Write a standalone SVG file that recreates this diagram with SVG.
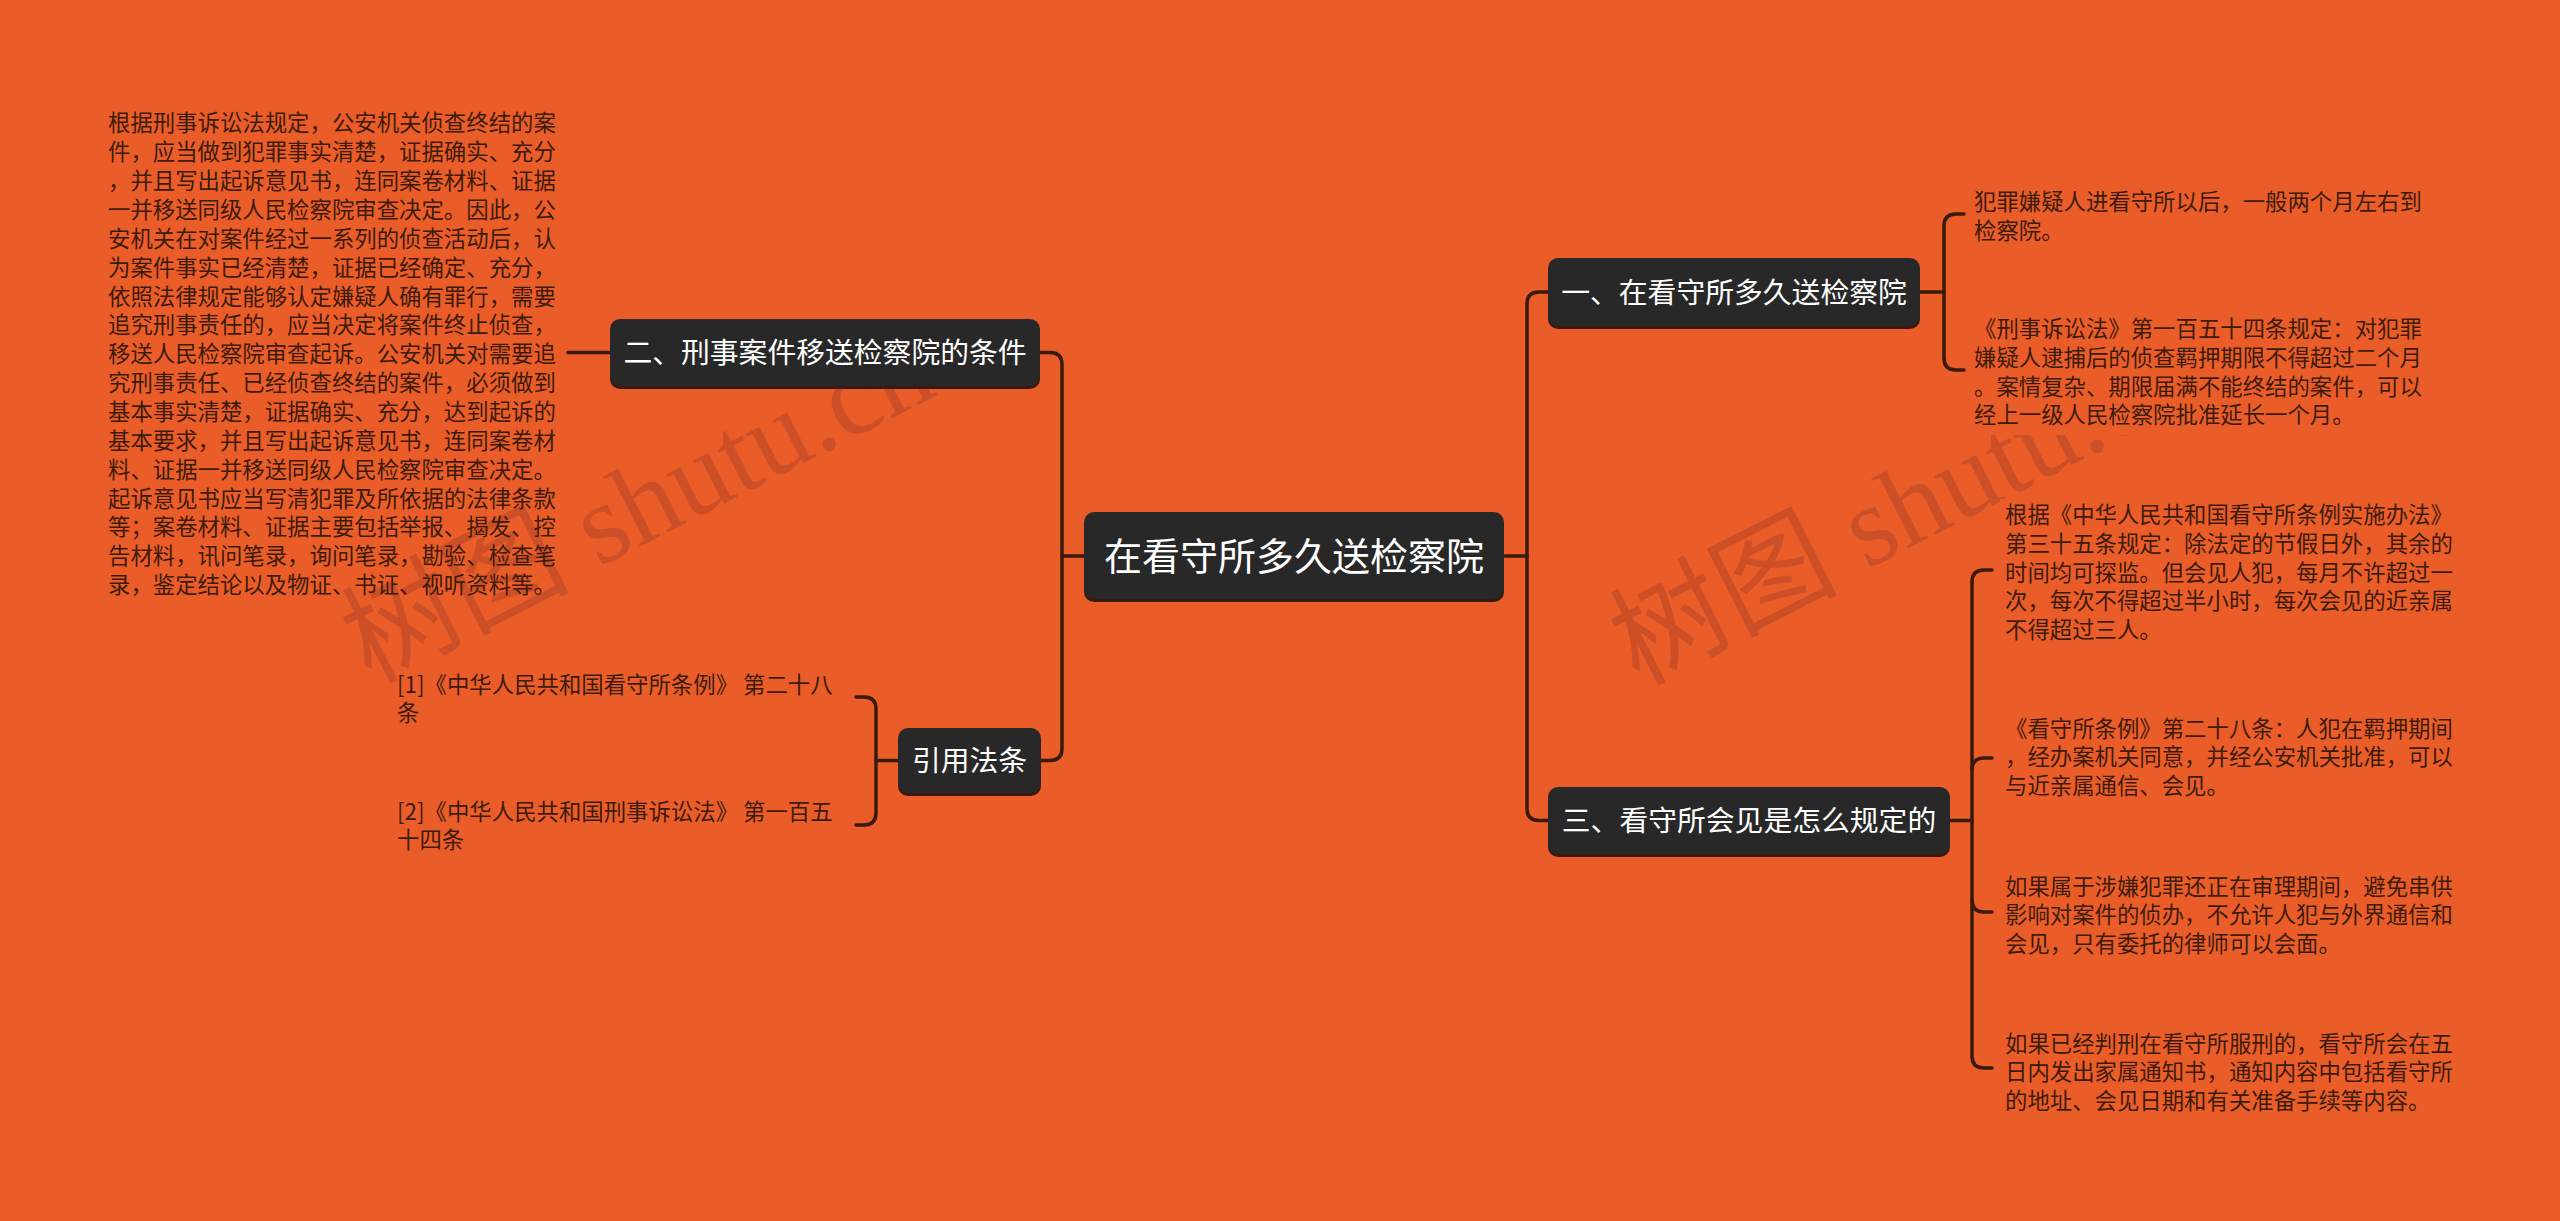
<svg xmlns="http://www.w3.org/2000/svg" width="2560" height="1221" viewBox="0 0 2560 1221">
<style>
.bg{fill:#EA5D29}
.wm{font-family:"Liberation Serif","Noto Sans CJK SC",serif;font-size:114px;fill:#CC4F27}
.node rect.box{fill:#282828}
.node rect.sh{fill:#3a1a0c}
.node text{font-family:"Noto Sans CJK SC","Noto Sans",sans-serif;fill:#ffffff;text-anchor:middle}
.t2{font-size:28.8px}
.t1{font-size:38px}
.leaf rect{fill:#EA5D29}
.leaf text{font-family:"Noto Sans CJK SC","Noto Sans",sans-serif;font-size:22.4px;fill:#3d1b0b}
.conn path{fill:none;stroke:#3a1a0c;stroke-width:3.5;stroke-linecap:round}
</style>
<rect class="bg" x="0" y="0" width="2560" height="1221"/>
<g id="watermarks">
<text class="wm" x="370" y="684" transform="rotate(-27 370 684)">树图 shutu.cn</text>
<text class="wm" x="1638" y="686" transform="rotate(-27 1638 686)">树图 shutu.cn</text>
</g>
<g class="conn" id="connectors">
<path d="M1041,352.5 H1050 Q1062,352.5 1062,364.5 V748.5 Q1062,760.5 1050,760.5 H1041"/>
<path d="M1084,556 H1062"/>
<path d="M610,352.5 H568"/>
<path d="M898,760.5 H876"/>
<path d="M856,697 H864 Q876,697 876,709 V813 Q876,825 864,825 H856"/>
<path d="M1548,292 H1539 Q1527,292 1527,304 V808.5 Q1527,820.5 1539,820.5 H1548"/>
<path d="M1505,556 H1527"/>
<path d="M1920,292 H1944"/>
<path d="M1964,214 H1956 Q1944,214 1944,226 V358 Q1944,370 1956,370 H1964"/>
<path d="M1950,820.5 H1972"/>
<path d="M1992,570 H1984 Q1972,570 1972,582 V1056 Q1972,1068 1984,1068 H1992"/>
<path d="M1972,770 Q1972,758 1984,758 H1992"/>
<path d="M1972,900 Q1972,912 1984,912 H1992"/>
</g>
<g class="leaf" id="leaf-conditions">
<text x="108" y="131.3"><tspan x="108">根据刑事诉讼法规定，公安机关侦查终结的案</tspan><tspan x="108" dy="28.87">件，应当做到犯罪事实清楚，证据确实、充分</tspan><tspan x="108" dy="28.87">，并且写出起诉意见书，连同案卷材料、证据</tspan><tspan x="108" dy="28.87">一并移送同级人民检察院审查决定。因此，公</tspan><tspan x="108" dy="28.87">安机关在对案件经过一系列的侦查活动后，认</tspan><tspan x="108" dy="28.87">为案件事实已经清楚，证据已经确定、充分，</tspan><tspan x="108" dy="28.87">依照法律规定能够认定嫌疑人确有罪行，需要</tspan><tspan x="108" dy="28.87">追究刑事责任的，应当决定将案件终止侦查，</tspan><tspan x="108" dy="28.87">移送人民检察院审查起诉。公安机关对需要追</tspan><tspan x="108" dy="28.87">究刑事责任、已经侦查终结的案件，必须做到</tspan><tspan x="108" dy="28.87">基本事实清楚，证据确实、充分，达到起诉的</tspan><tspan x="108" dy="28.87">基本要求，并且写出起诉意见书，连同案卷材</tspan><tspan x="108" dy="28.87">料、证据一并移送同级人民检察院审查决定。</tspan><tspan x="108" dy="28.87">起诉意见书应当写清犯罪及所依据的法律条款</tspan><tspan x="108" dy="28.87">等；案卷材料、证据主要包括举报、揭发、控</tspan><tspan x="108" dy="28.87">告材料，讯问笔录，询问笔录，勘验、检查笔</tspan><tspan x="108" dy="28.87">录，鉴定结论以及物证、书证、视听资料等。</tspan></text>
</g>
<g class="leaf" id="leaf-ref1">
<text x="397" y="693.3"><tspan x="397">[1]《中华人民共和国看守所条例》 第二十八</tspan><tspan x="397" dy="27.5">条</tspan></text>
</g>
<g class="leaf" id="leaf-ref2">
<text x="397" y="820.3"><tspan x="397">[2]《中华人民共和国刑事诉讼法》 第一百五</tspan><tspan x="397" dy="27.5">十四条</tspan></text>
</g>
<g class="leaf" id="leaf-r1">
<rect x="1968" y="186" width="462" height="59"/>
<text x="1974" y="210.3"><tspan x="1974">犯罪嫌疑人进看守所以后，一般两个月左右到</tspan><tspan x="1974" dy="28.6">检察院。</tspan></text>
</g>
<g class="leaf" id="leaf-r2">
<rect x="1968" y="313" width="462" height="122"/>
<text x="1974" y="337.3"><tspan x="1974">《刑事诉讼法》第一百五十四条规定：对犯罪</tspan><tspan x="1974" dy="28.6">嫌疑人逮捕后的侦查羁押期限不得超过二个月</tspan><tspan x="1974" dy="28.6">。案情复杂、期限届满不能终结的案件，可以</tspan><tspan x="1974" dy="28.6">经上一级人民检察院批准延长一个月。</tspan></text>
</g>
<g class="leaf" id="leaf-l1">
<rect x="2000" y="499" width="460" height="145"/>
<text x="2005" y="523.3"><tspan x="2005">根据《中华人民共和国看守所条例实施办法》</tspan><tspan x="2005" dy="28.6">第三十五条规定：除法定的节假日外，其余的</tspan><tspan x="2005" dy="28.6">时间均可探监。但会见人犯，每月不许超过一</tspan><tspan x="2005" dy="28.6">次，每次不得超过半小时，每次会见的近亲属</tspan><tspan x="2005" dy="28.6">不得超过三人。</tspan></text>
</g>
<g class="leaf" id="leaf-l2">
<text x="2005" y="736.8"><tspan x="2005">《看守所条例》第二十八条：人犯在羁押期间</tspan><tspan x="2005" dy="28.6">，经办案机关同意，并经公安机关批准，可以</tspan><tspan x="2005" dy="28.6">与近亲属通信、会见。</tspan></text>
</g>
<g class="leaf" id="leaf-l3">
<text x="2005" y="894.8"><tspan x="2005">如果属于涉嫌犯罪还正在审理期间，避免串供</tspan><tspan x="2005" dy="28.6">影响对案件的侦办，不允许人犯与外界通信和</tspan><tspan x="2005" dy="28.6">会见，只有委托的律师可以会面。</tspan></text>
</g>
<g class="leaf" id="leaf-l4">
<text x="2005" y="1051.8"><tspan x="2005">如果已经判刑在看守所服刑的，看守所会在五</tspan><tspan x="2005" dy="28.6">日内发出家属通知书，通知内容中包括看守所</tspan><tspan x="2005" dy="28.6">的地址、会见日期和有关准备手续等内容。</tspan></text>
</g>
<g class="node" id="node-center">
<rect class="sh" x="1084" y="515" width="420" height="87" rx="10"/>
<rect class="box" x="1084" y="512" width="420" height="87" rx="10"/>
<text class="t1" x="1294" y="569.5">在看守所多久送检察院</text>
</g>
<g class="node" id="node-conditions">
<rect class="sh" x="610" y="322" width="430" height="67" rx="10"/>
<rect class="box" x="610" y="319" width="430" height="67" rx="10"/>
<text class="t2" x="825" y="363">二、刑事案件移送检察院的条件</text>
</g>
<g class="node" id="node-refs">
<rect class="sh" x="898" y="731" width="143" height="65" rx="10"/>
<rect class="box" x="898" y="728" width="143" height="65" rx="10"/>
<text class="t2" x="969.5" y="771">引用法条</text>
</g>
<g class="node" id="node-how-long">
<rect class="sh" x="1548" y="261" width="372" height="68" rx="10"/>
<rect class="box" x="1548" y="258" width="372" height="68" rx="10"/>
<text class="t2" x="1734" y="302.6">一、在看守所多久送检察院</text>
</g>
<g class="node" id="node-visit">
<rect class="sh" x="1548" y="790" width="402" height="67" rx="10"/>
<rect class="box" x="1548" y="787" width="402" height="67" rx="10"/>
<text class="t2" x="1749" y="831">三、看守所会见是怎么规定的</text>
</g>
</svg>
